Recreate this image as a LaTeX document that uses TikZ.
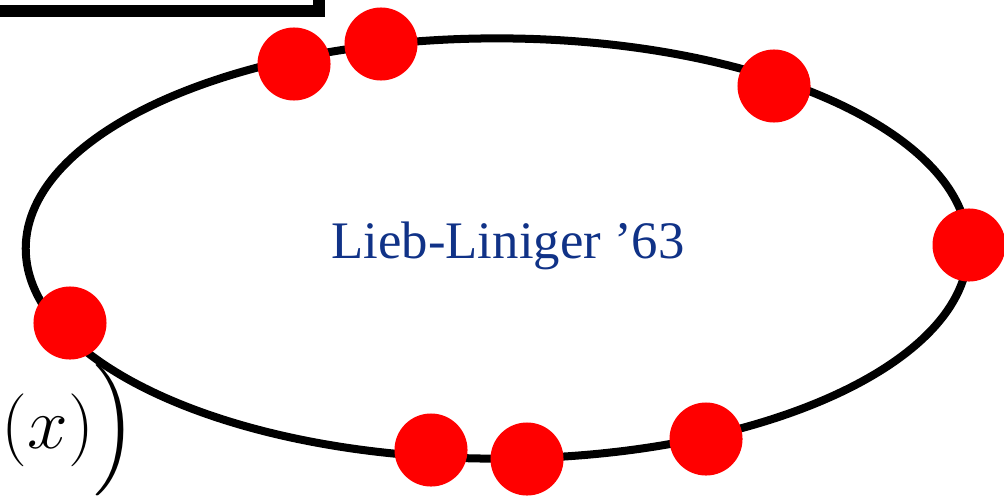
\documentclass[tikz,border=0pt]{standalone}
\usepackage{fontspec}
\usepackage{amsmath}
\newfontfamily\timesfont{Liberation Serif}
\definecolor{llblue}{RGB}{16,50,135}

\begin{document}
\begin{tikzpicture}[x=0.01cm,y=-0.01cm]
  \tikzstyle{atom}=[circle,fill=red,minimum size=7.3mm,inner sep=0pt]
  \useasboundingbox (0,0) rectangle (1004,497);
  \clip (0,0) rectangle (1004,497);
  % frame of the panel above
  \node[draw,line width=0.12cm,minimum width=5cm,minimum height=1.2cm,
    anchor=south east,inner sep=0pt] (panel) at (325,17) {};
  % the ring
  \coordinate (centre) at (497,248.5);
  \draw[line width=0.08cm] (centre) ellipse [x radius=4.71cm,y radius=2.10cm];
  \node[text=llblue,font=\timesfont\fontsize{15}{18}\selectfont,anchor=base]
    (label) at (508,258) {Lieb-Liniger ’63};
  % particles on the ring
  \node[atom] (a1) at (294,64) {};
  \node[atom] (a2) at (381,44) {};
  \node[atom] (a3) at (774,86) {};
  \node[atom] (a4) at (969,245) {};
  \node[atom] (a5) at (70,323) {};
  \node[atom] (a6) at (431,450) {};
  \node[atom] (a7) at (527,459) {};
  \node[atom] (a8) at (706,439) {};
  \node[anchor=west,inner sep=0pt,font=\fontsize{21}{25}\selectfont]
    (arg) at (1,430) {$(x)\Big)$};
\end{tikzpicture}
\end{document}
